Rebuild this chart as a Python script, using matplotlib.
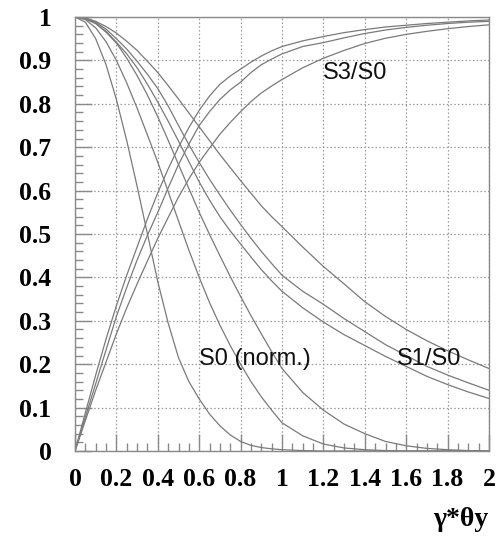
import matplotlib
matplotlib.use("Agg")
import matplotlib.pyplot as plt
from matplotlib.ticker import MultipleLocator, FixedLocator

# x positions (gamma*theta_y)
x = [0.0, 0.05, 0.1, 0.15, 0.2, 0.25, 0.3, 0.35, 0.4, 0.45, 0.5,
     0.55, 0.6, 0.65, 0.7, 0.75, 0.8, 0.85, 0.9, 0.95, 1.0,
     1.1, 1.2, 1.3, 1.4, 1.5, 1.6, 1.7, 1.8, 1.9, 2.0]

# S0 (normalized) for three frequencies
s0_a = [1.0, 0.988, 0.95, 0.89, 0.81, 0.715, 0.61, 0.50, 0.39, 0.295, 0.215,
        0.16, 0.12, 0.085, 0.058, 0.037, 0.022, 0.013, 0.008, 0.005, 0.003,
        0.001, 0.0, 0.0, 0.0, 0.0, 0.0, 0.0, 0.0, 0.0, 0.0]
s0_b = [1.0, 0.994, 0.975, 0.943, 0.90, 0.848, 0.79, 0.728, 0.665, 0.598, 0.53,
        0.463, 0.40, 0.342, 0.29, 0.243, 0.20, 0.16, 0.125, 0.094, 0.065,
        0.035, 0.016, 0.007, 0.003, 0.001, 0.0, 0.0, 0.0, 0.0, 0.0]
s0_c = [1.0, 0.996, 0.985, 0.965, 0.94, 0.905, 0.865, 0.82, 0.77, 0.716, 0.66,
        0.605, 0.55, 0.499, 0.45, 0.402, 0.356, 0.312, 0.27, 0.229, 0.19,
        0.135, 0.094, 0.062, 0.04, 0.022, 0.012, 0.006, 0.003, 0.001, 0.0]

# S1/S0 for three frequencies
s1_a = [1.0, 0.996, 0.985, 0.967, 0.942, 0.915, 0.883, 0.845, 0.804, 0.76, 0.714,
        0.667, 0.62, 0.578, 0.54, 0.507, 0.477, 0.447, 0.418, 0.392, 0.368,
        0.33, 0.297, 0.268, 0.243, 0.218, 0.195, 0.172, 0.153, 0.136, 0.121]
s1_b = [1.0, 0.997, 0.988, 0.972, 0.95, 0.926, 0.898, 0.868, 0.835, 0.795, 0.75,
        0.706, 0.665, 0.626, 0.59, 0.555, 0.522, 0.49, 0.46, 0.432, 0.405,
        0.368, 0.338, 0.305, 0.275, 0.245, 0.22, 0.195, 0.175, 0.157, 0.14]
s1_c = [1.0, 0.998, 0.99, 0.978, 0.963, 0.944, 0.923, 0.898, 0.872, 0.842, 0.811,
        0.779, 0.747, 0.715, 0.683, 0.653, 0.623, 0.594, 0.565, 0.54, 0.517,
        0.47, 0.425, 0.385, 0.344, 0.31, 0.28, 0.254, 0.231, 0.21, 0.19]

# S3/S0 for three frequencies
s3_a = [0.0, 0.088, 0.175, 0.258, 0.335, 0.405, 0.47, 0.535, 0.595, 0.65, 0.70,
        0.745, 0.785, 0.818, 0.845, 0.864, 0.88, 0.896, 0.91, 0.922, 0.932,
        0.945, 0.955, 0.964, 0.971, 0.977, 0.981, 0.985, 0.988, 0.991, 0.993]
s3_b = [0.0, 0.078, 0.155, 0.233, 0.31, 0.377, 0.44, 0.497, 0.55, 0.606, 0.66,
        0.707, 0.75, 0.782, 0.81, 0.832, 0.85, 0.872, 0.89, 0.903, 0.915,
        0.932, 0.941, 0.952, 0.962, 0.97, 0.976, 0.981, 0.985, 0.988, 0.99]
s3_c = [0.0, 0.07, 0.14, 0.205, 0.27, 0.33, 0.385, 0.438, 0.49, 0.538, 0.585,
        0.627, 0.665, 0.698, 0.73, 0.757, 0.782, 0.805, 0.825, 0.841, 0.856,
        0.883, 0.905, 0.923, 0.939, 0.951, 0.96, 0.967, 0.973, 0.978, 0.982]

x_tick_vals = [0, 0.2, 0.4, 0.6, 0.8, 1.0, 1.2, 1.4, 1.6, 1.8, 2.0]
x_tick_labels = ["0", "0.2", "0.4", "0.6", "0.8", "1", "1.2", "1.4", "1.6", "1.8", "2"]
y_tick_vals = [0, 0.1, 0.2, 0.3, 0.4, 0.5, 0.6, 0.7, 0.8, 0.9, 1.0]
y_tick_labels = ["0", "0.1", "0.2", "0.3", "0.4", "0.5", "0.6", "0.7", "0.8", "0.9", "1"]

fig = plt.figure(figsize=(4.96, 5.36), dpi=100)
ax = fig.add_axes([75/496, 85/536, 414/496, 434/536])

line_color = "#7a7a7a"
for series in (s0_a, s0_b, s0_c, s1_a, s1_b, s1_c, s3_a, s3_b, s3_c):
    ax.plot(x, series, color=line_color, lw=0.9)

ax.set_xlim(0, 2)
ax.set_ylim(0, 1)

ax.xaxis.set_major_locator(FixedLocator(x_tick_vals))
ax.yaxis.set_major_locator(FixedLocator(y_tick_vals))
ax.set_xticklabels(x_tick_labels)
ax.set_yticklabels(y_tick_labels)
ax.xaxis.set_minor_locator(MultipleLocator(0.05))
ax.yaxis.set_minor_locator(MultipleLocator(0.02))

frame_color = "#8a8a8a"
for sp in ax.spines.values():
    sp.set_color(frame_color)
    sp.set_linewidth(1.0)

ax.tick_params(which="major", direction="in", length=12, width=1.0, color=frame_color,
               top=False, right=False)
ax.tick_params(which="minor", direction="in", length=6, width=1.0, color=frame_color,
               top=False, right=False)
ax.tick_params(axis="y", which="major", pad=17)
ax.tick_params(axis="x", which="major", pad=12)
for lab in ax.get_xticklabels() + ax.get_yticklabels():
    lab.set_fontfamily("Liberation Serif")
    lab.set_fontweight("bold")
    lab.set_fontsize(18.5)

ax.grid(True, which="major", color="#9a9a9a", linestyle=(0, (1.2, 1.8)), linewidth=0.9)
ax.set_axisbelow(True)

txt_kw = dict(fontfamily="Liberation Sans", fontsize=17, color="#111111")
ax.text(1.198, 0.87, "S3/S0", va="center", ha="left", **txt_kw)
ax.text(0.6, 0.212, "S0 (norm.)", va="center", ha="left", **txt_kw)
ax.text(1.554, 0.212, "S1/S0", va="center", ha="left", **txt_kw)

fig.text(488/496, 1 - 520/536, "\u03b3*\u03b8y", ha="right", va="center",
         fontfamily="Liberation Serif", fontweight="bold", fontsize=20)

fig.savefig("out.png", dpi=100)
